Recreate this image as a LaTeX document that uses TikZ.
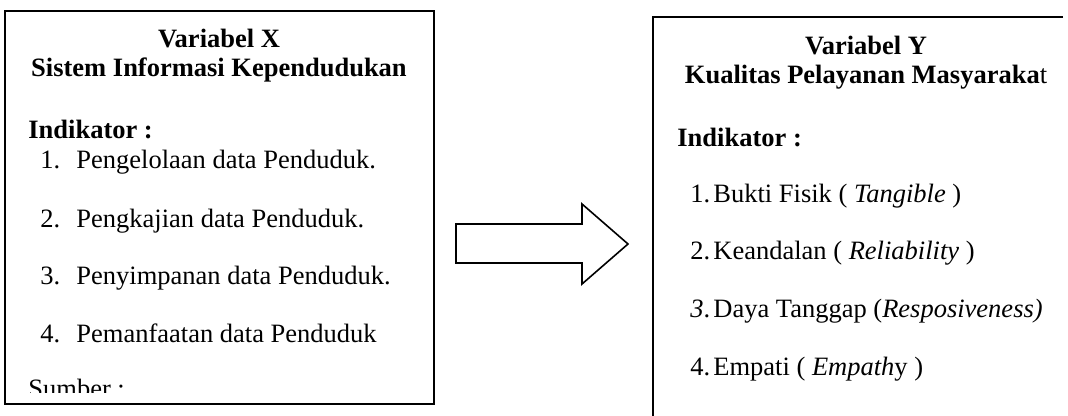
\documentclass[tikz,border=0pt]{standalone}
\usepackage{fontspec}
\setmainfont{Liberation Serif}
\begin{document}
\begin{tikzpicture}[x=0.5pt,y=-0.5pt,
  frame/.style={line width=1.2pt, draw=black},
  blockarrow/.style={line width=0.8pt, draw=black, line join=miter},
  txt/.style={inner sep=0pt, font=\fontsize{13.25}{15}\selectfont},
  head/.style={txt, anchor=base, font=\fontsize{13.25}{15}\selectfont\bfseries},
  lbl/.style={txt, anchor=base west}]
\useasboundingbox (0,0) rectangle (1068,416);

% left box: Variabel X
\draw[frame] (5,11) rectangle (434,404);
\node[head] (xt1) at (219,48) {Variabel X};
\node[head] (xt2) at (219,77) {Sistem Informasi Kependudukan};
\node[lbl, font=\fontsize{13.25}{15}\selectfont\bfseries] (xind) at (28,139) {Indikator :};
\foreach \n/\y/\t in {1/169/Pengelolaan data Penduduk.,
                      2/228/Pengkajian data Penduduk.,
                      3/285/Penyimpanan data Penduduk.,
                      4/342/Pemanfaatan data Penduduk}{
  \node[lbl] (xn\n) at (40,\y) {\n.};
  \node[lbl] (xi\n) at (76,\y) {\t};
}
\begin{scope}
  \clip (6,12) rectangle (433,392);
  \node[lbl] (xsrc) at (28,397) {Sumber :};
\end{scope}

% block arrow between the two boxes
\draw[blockarrow] (456,224) -- (582,224) -- (582,204) -- (628,244)
  -- (582,284) -- (582,263) -- (456,263) -- cycle;

% right box: Variabel Y
\draw[frame] (1063,17) -- (653,17) -- (653,418);
\node[head] (yt1) at (866,55) {Variabel Y};
\node[head] (yt2) at (866,84) {Kualitas Pelayanan Masyaraka\mdseries t};
\node[lbl, font=\fontsize{13.25}{15}\selectfont\bfseries] (yind) at (677,147) {Indikator :};
\node[lbl] (yn1) at (690,203) {1.};
\node[lbl] (yi1) at (713,203) {Bukti Fisik ( \textit{Tangible} )};
\node[lbl] (yn2) at (690,260) {2.};
\node[lbl] (yi2) at (713,260) {Keandalan ( \textit{Reliability} )};
\node[lbl] (yn3) at (690,317) {\textit{3}.};
\node[lbl] (yi3) at (713,317) {Daya Tanggap (\textit{Resposiveness)}};
\node[lbl] (yn4) at (690,375) {4.};
\node[lbl] (yi4) at (713,375) {Empati ( \textit{Empath}y )};
\end{tikzpicture}
\end{document}
